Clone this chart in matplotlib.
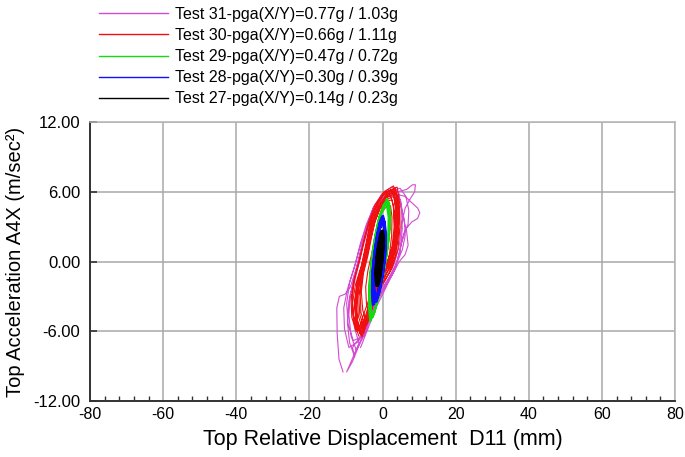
import matplotlib
matplotlib.use("Agg")
import matplotlib.pyplot as plt
from matplotlib.ticker import MultipleLocator, FixedLocator

plt.rcParams['font.family'] = ['Liberation Sans', 'DejaVu Sans']

# ---------------- data ----------------
labels = ["Test 31-pga(X/Y)=0.77g / 1.03g",
          "Test 30-pga(X/Y)=0.66g / 1.11g",
          "Test 29-pga(X/Y)=0.47g / 0.72g",
          "Test 28-pga(X/Y)=0.30g / 0.39g",
          "Test 27-pga(X/Y)=0.14g / 0.23g"]
colors = ["#d24cd2", "#f01010", "#10dd10", "#1010ff", "#000000"]

t31_x = [-10.8, -11.9, -12.4, -12.5, -11.8, -10.2, -8.8, -7.2, -5.8, -4.4, -2.6, -0.2, 2.6, 4.4, 5.2, 5.4, 4.8, 3.2, 0.6, -2.2, -4.4, -6.4, -8.2, -9.8,
         -6.4, -7.6, -8.4, -8.0, -6.6, -5.2, -3.8, -1.6, 1.2, 4.2, 6.6, 8.2, 9.0, 8.8, 7.6, 6.2, 5.2, 4.6, 3.2, 0.8, -1.8, -3.8, -5.4,
         -7.2, -8.6, -9.2, -8.8, -7.4, -6.0, -4.4, -2.4, 0.4, 3.6, 6.2, 8.2, 9.6, 10.2, 9.6, 8.0, 6.4, 5.2, 4.0, 1.8, -0.8, -3.0, -5.0,
         -8.0, -9.4, -9.8, -9.0, -7.4, -6.0, -4.4, -2.2, 0.6, 3.4, 5.0, 5.6, 6.6, 7.0, 6.2, 4.6, 2.6, 0.0, -2.6, -4.8, -6.6,
         -9.2, -10.4, -10.6, -9.6, -8.0, -6.4, -4.8, -2.8, -0.2, 2.8, 4.8, 6.0, 6.2, 5.4, 3.6, 1.0, -1.8, -4.2, -6.4, -8.2,
         -7.6, -9.0, -9.6, -9.2, -7.8, -6.4, -5.0, -3.2, -0.8, 2.0, 4.8, 6.4, 7.2, 7.0, 5.8, 4.8, 3.4, 1.0, -1.8, -4.0, -6.0]
t31_y = [-9.5, -8.4, -6.2, -4.0, -3.0, -2.8, -2.2, -0.6, 1.2, 3.0, 4.6, 5.8, 6.4, 6.0, 4.6, 2.8, 0.8, -0.8, -2.2, -3.6, -5.4, -7.2, -8.6, -9.5,
         -7.0, -5.8, -4.0, -2.2, -0.4, 1.4, 3.0, 4.6, 5.6, 6.0, 6.2, 6.6, 6.6, 6.0, 5.4, 4.6, 3.2, 1.4, -0.2, -1.6, -3.2, -5.0, -6.6,
         -7.6, -6.4, -4.6, -2.8, -1.0, 0.8, 2.6, 4.2, 5.4, 5.8, 5.6, 5.0, 4.6, 4.2, 3.7, 3.4, 2.8, 1.6, 0.0, -1.4, -2.8, -4.6, -6.4,
         -6.8, -5.4, -3.6, -1.8, -0.2, 1.6, 3.2, 4.8, 5.8, 6.1, 5.2, 3.8, 2.6, 1.4, 0.6, 0.0, -1.2, -2.6, -4.2, -5.8, -6.9,
         -7.4, -5.8, -4.0, -2.4, -0.8, 1.0, 2.6, 4.2, 5.3, 5.8, 5.0, 3.6, 2.2, 1.0, -0.4, -1.8, -3.4, -5.2, -6.6, -7.4,
         -8.2, -7.0, -5.2, -3.4, -1.6, 0.2, 2.0, 3.8, 5.2, 6.0, 6.3, 5.6, 4.4, 3.2, 2.4, 1.0, -0.6, -2.2, -4.0, -5.8, -7.4]

t30_x = [-6.5, -7.8, -8.2, -7.4, -5.8, -4.6, -3.6, -2.0, 0.4, 4.0, 4.7, 4.8, 4.2, 2.6, 0.2, -2.2, -3.8, -5.2,
         -5.8, -7.0, -7.3, -6.6, -5.2, -4.0, -3.0, -1.4, 0.8, 3.2, 3.9, 4.0, 3.4, 1.9, -0.4, -2.6, -4.0,
         -5.0, -6.2, -6.5, -5.8, -4.5, -3.4, -2.4, -0.9, 1.2, 3.6, 4.3, 4.4, 3.8, 2.2, -0.1, -2.0, -3.4,
         -6.2, -7.4, -7.6, -6.8, -5.4, -4.2, -3.2, -1.6, 0.6, 2.8, 3.5, 3.7, 3.2, 1.8, -0.6, -2.8, -4.4,
         -4.4, -5.4, -5.8, -5.2, -4.0, -3.0, -2.0, -0.6, 1.2, 2.6, 3.2, 3.3, 2.7, 1.3, -0.8, -2.6, -3.8,
         -5.6, -6.8, -7.2, -6.6, -5.4, -4.2, -3.0, -1.2, 1.0, 3.8, 4.5, 4.4, 3.6, 1.8, -0.6, -2.8, -4.2,
         -6.8, -8.0, -8.3, -7.6, -6.2, -5.0, -3.8, -2.0, 0.4, 3.0, 3.8, 4.0, 3.5, 2.0, -0.3, -2.5, -4.2, -5.6,
         -3.6, -4.4, -4.6, -4.0, -3.0, -2.2, -1.4, -0.2, 1.2, 2.2, 2.6, 2.5, 1.9, 0.7, -1.0, -2.4, -3.2,
         -7.2, -8.4, -8.6, -7.8, -6.4, -5.2, -4.0, -2.2, 0.0, 2.4, 3.4, 3.6, 3.0, 1.4, -1.0, -3.2, -5.0, -6.4,
         -4.8, -5.9, -6.1, -5.5, -4.3, -3.2, -2.2, -0.8, 1.0, 3.0, 3.7, 3.8, 3.1, 1.6, -0.5, -2.3, -3.6,
         -6.0, -7.2, -7.6, -7.0, -5.6, -4.4, -3.4, -1.8, 0.4, 2.2, 3.0, 3.2, 2.6, 1.0, -1.2, -3.2, -4.8,
         -5.4, -6.6, -6.9, -6.2, -5.0, -3.8, -2.8, -1.2, 0.9, 3.4, 4.2, 4.3, 3.7, 2.2, -0.2, -2.4, -3.9]
t30_y = [-6.4, -5.2, -3.6, -2.0, -0.4, 1.4, 3.0, 4.6, 5.9, 6.4, 5.0, 3.0, 1.0, -0.6, -1.8, -3.2, -4.8, -6.2,
         -6.0, -4.9, -3.4, -1.8, -0.2, 1.6, 3.1, 4.6, 5.6, 6.0, 4.8, 2.8, 0.9, -0.6, -1.9, -3.3, -4.8,
         -5.8, -4.6, -3.0, -1.4, 0.2, 1.9, 3.4, 4.8, 5.7, 6.1, 5.0, 3.2, 1.2, -0.4, -1.6, -3.0, -4.6,
         -6.2, -5.0, -3.4, -1.6, 0.0, 1.8, 3.4, 4.9, 5.9, 6.2, 5.2, 3.4, 1.4, -0.2, -1.6, -3.2, -5.0,
         -5.2, -4.2, -2.6, -1.0, 0.5, 2.1, 3.5, 4.6, 5.2, 5.3, 4.3, 2.6, 0.9, -0.5, -1.8, -3.2, -4.6,
         -6.5, -5.3, -3.8, -2.2, -0.6, 1.1, 2.8, 4.4, 5.5, 5.9, 4.6, 2.6, 0.6, -1.0, -2.3, -3.8, -5.4,
         -5.9, -4.6, -3.0, -1.4, 0.2, 1.9, 3.4, 4.9, 6.0, 6.5, 5.6, 3.8, 1.8, 0.2, -1.2, -2.6, -4.2, -5.6,
         -4.6, -3.6, -2.2, -0.8, 0.6, 2.0, 3.2, 4.2, 4.8, 4.8, 3.8, 2.2, 0.6, -0.8, -2.0, -3.2, -4.2,
         -6.0, -4.8, -3.2, -1.6, 0.0, 1.6, 3.0, 4.4, 5.6, 6.2, 5.4, 3.6, 1.6, 0.0, -1.4, -2.8, -4.4, -5.8,
         -5.5, -4.4, -2.8, -1.2, 0.4, 2.0, 3.3, 4.5, 5.3, 5.6, 4.6, 2.8, 0.8, -0.7, -2.0, -3.4, -4.9,
         -6.3, -5.2, -3.6, -2.0, -0.4, 1.2, 2.8, 4.3, 5.4, 5.7, 4.8, 3.0, 1.2, -0.4, -1.8, -3.4, -5.2,
         -5.9, -4.7, -3.1, -1.5, 0.1, 1.8, 3.3, 4.7, 5.7, 6.3, 5.4, 3.5, 1.5, -0.1, -1.4, -2.9, -4.5]

t29_x = [-3.2, -3.6, -3.5, -2.9, -2.0, -0.9, 0.3, 1.5, 2.0, 1.9, 1.3, 0.3, -0.9, -2.2,
         -2.9, -3.3, -3.2, -2.6, -1.7, -0.7, 0.4, 1.2, 1.6, 1.5, 0.9, -0.1, -1.2, -2.3,
         -3.4, -3.8, -3.7, -3.1, -2.2, -1.1, 0.2, 1.3, 1.9, 2.2, 1.8, 1.0, -0.2, -1.5, -2.6,
         -3.0, -3.4, -3.2, -2.6, -1.6, -0.5, 0.6, 1.7, 2.1, 1.9, 1.2, 0.1, -1.1, -2.2,
         -3.1, -3.5, -3.4, -2.8, -1.9, -0.8, 0.4, 1.4, 1.8, 1.7, 1.1, 0.2, -1.0, -2.1]
t29_y = [-5.0, -3.6, -1.6, 0.4, 2.3, 3.9, 4.9, 5.2, 4.4, 2.8, 1.0, -1.0, -2.9, -4.4,
         -4.7, -3.3, -1.4, 0.6, 2.4, 3.8, 4.6, 4.7, 3.8, 2.2, 0.5, -1.4, -3.1, -4.5,
         -5.2, -3.9, -2.0, 0.0, 1.9, 3.6, 4.8, 5.4, 5.0, 3.8, 2.0, 0.2, -1.8, -3.6, -4.8,
         -4.4, -3.0, -1.0, 0.9, 2.7, 4.0, 4.8, 5.0, 4.0, 2.4, 0.6, -1.4, -3.0, -4.2,
         -4.8, -3.4, -1.5, 0.5, 2.3, 3.8, 4.8, 5.0, 4.1, 2.5, 0.8, -1.2, -3.0, -4.3]

t28_x = [-2.4, -2.7, -2.6, -2.1, -1.4, -0.6, 0.1, 0.6, 0.8, 0.5, -0.2, -1.1,
         -2.2, -2.5, -2.4, -1.9, -1.2, -0.5, 0.0, 0.5, 0.6, 0.3, -0.4, -1.3,
         -2.6, -2.8, -2.7, -2.2, -1.5, -0.7, -0.1, 0.5, 0.8, 0.7, 0.1, -0.8, -1.8,
         -2.0, -2.4, -2.3, -1.8, -1.1, -0.4, 0.2, 0.6, 0.5, 0.0, -0.8, -1.6,
         -2.3, -2.6, -2.5, -2.0, -1.3, -0.6, 0.0, 0.4, 0.7, 0.6, 0.0, -0.9, -1.7]
t28_y = [-3.6, -2.4, -0.8, 0.8, 2.3, 3.4, 3.9, 3.2, 1.8, 0.2, -1.4, -2.8,
         -3.3, -2.1, -0.6, 0.9, 2.2, 3.2, 3.6, 3.0, 1.6, 0.0, -1.5, -2.9,
         -3.7, -2.6, -1.0, 0.6, 2.1, 3.3, 3.8, 3.4, 2.2, 0.6, -1.0, -2.4, -3.4,
         -3.1, -2.0, -0.4, 1.0, 2.4, 3.3, 3.5, 2.6, 1.0, -0.6, -2.0, -3.2,
         -3.5, -2.3, -0.7, 0.7, 2.1, 3.1, 3.7, 3.3, 2.0, 0.4, -1.2, -2.6, -3.4]

t27_x = [-1.5, -1.7, -1.6, -1.3, -0.8, -0.3, 0.0, 0.1, 0.0, -0.3, -0.7, -1.1,
         -1.4, -1.6, -1.5, -1.1, -0.6, -0.2, 0.1, 0.1, -0.1, -0.5, -0.9, -1.3,
         -1.6, -1.7, -1.4, -1.0, -0.5, -0.1, 0.0, -0.2, -0.6, -1.0, -1.4,
         -1.2, -1.4, -1.2, -0.8, -0.4, -0.1, -0.1, -0.4, -0.8, -1.2,
         -1.0, -1.1, -0.9, -0.6, -0.3, -0.4, -0.7, -1.0]
t27_y = [-2.0, -1.2, -0.2, 0.8, 1.8, 2.5, 2.6, 2.0, 1.0, -0.1, -1.1, -1.8,
         -1.9, -1.0, 0.0, 1.0, 1.9, 2.4, 2.2, 1.4, 0.4, -0.6, -1.5, -2.0,
         -1.8, -0.8, 0.3, 1.2, 2.0, 2.4, 1.6, 0.6, -0.5, -1.4, -2.0,
         -1.6, -0.7, 0.3, 1.3, 2.0, 2.1, 1.2, 0.1, -0.9, -1.7,
         -1.2, -0.3, 0.6, 1.4, 1.6, 0.6, -0.4, -1.3]

x_ticks = [-80, -60, -40, -20, 0, 20, 40, 60, 80]
y_ticks = [-12, -6, 0, 6, 12]

# ---------------- figure ----------------
fig = plt.figure(figsize=(6.85, 4.57), dpi=100)
ax = fig.add_axes([90 / 685, 56 / 457, 585 / 685, 279 / 457])

series = [(t31_x, t31_y), (t30_x, t30_y), (t29_x, t29_y), (t28_x, t28_y), (t27_x, t27_y)]
widths = [0.8, 0.8, 1.1, 2.0, 2.6]
handles = []
for (xs, ys), c, lab, lw in zip(series, colors, labels, widths):
    h, = ax.plot(xs, ys, color=c, lw=lw, label=lab, zorder=3)
    handles.append(h)

ax.set_xlim(-80, 80)
ax.set_ylim(-12, 12)
ax.xaxis.set_major_locator(FixedLocator(x_ticks))
ax.xaxis.set_minor_locator(MultipleLocator(4))
ax.yaxis.set_major_locator(FixedLocator(y_ticks))
ax.set_yticklabels([f"{v:.2f}" for v in y_ticks])
ax.set_xticklabels([str(v) for v in x_ticks])

ax.grid(True, which='major', color='#a8a8a8', lw=1.1, zorder=0)
ax.set_axisbelow(True)

ax.tick_params(axis='x', which='major', direction='in', length=0, labelsize=11.5, pad=4)
ax.tick_params(axis='x', which='minor', direction='in', length=3.5, width=1.0, color='#333333')
ax.tick_params(axis='y', which='major', direction='in', length=5, width=1.2, color='#333333',
               labelsize=12, pad=7)

for s in ['left', 'bottom']:
    ax.spines[s].set_color('#333333')
    ax.spines[s].set_linewidth(1.4)
for s in ['top', 'right']:
    ax.spines[s].set_color('#b4b4b4')
    ax.spines[s].set_linewidth(1.1)

ax.set_xlabel("Top Relative Displacement  D11 (mm)", fontsize=15.5, labelpad=5)
ax.set_ylabel("Top Acceleration A4X (m/sec²)", fontsize=14.5, labelpad=6)

leg = fig.legend(handles=handles, labels=labels, loc='upper left',
                 bbox_to_anchor=(99 / 685, 1 - 7 / 457), frameon=False,
                 fontsize=11.5, handlelength=4.3, handletextpad=0.45,
                 labelspacing=0.38, borderpad=0, borderaxespad=0)
for line in leg.get_lines():
    line.set_linewidth(1.0)

fig.savefig("out.png", dpi=100)
